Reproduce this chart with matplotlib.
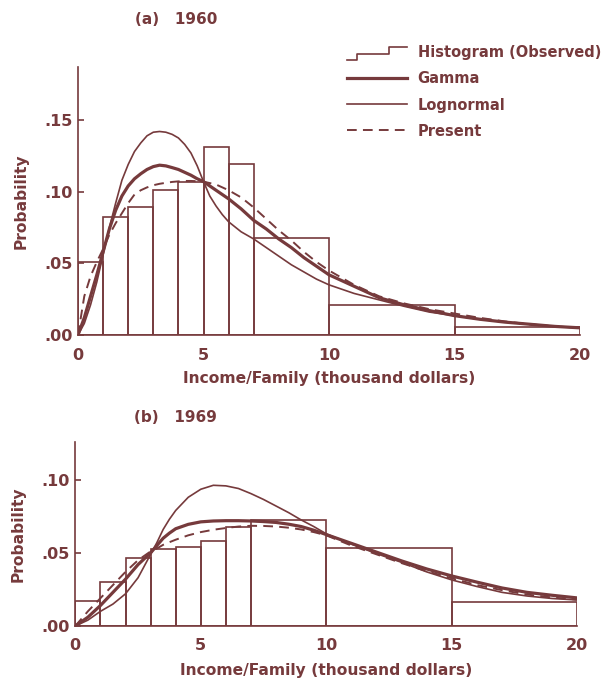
import matplotlib
matplotlib.use("Agg")
import matplotlib.pyplot as plt
from matplotlib.lines import Line2D
from matplotlib.legend_handler import HandlerBase

# cor da tinta do original
COR = "#763a3c"

# histogramas (limites das classes em mil dolares)
bordas = [0, 1, 2, 3, 4, 5, 6, 7, 10, 15, 20]
hist_1960 = [0.051, 0.082, 0.089, 0.101, 0.1065, 0.131, 0.119, 0.0676, 0.0207, 0.0058]
hist_1969 = [0.0171, 0.0304, 0.0466, 0.0525, 0.0541, 0.0578, 0.0674, 0.0722, 0.0532, 0.0162]

# curvas ajustadas 1960
x_a = [0, 0.25, 0.5, 0.75, 1.0, 1.25, 1.5, 1.75, 2.0, 2.25, 2.5, 2.75, 3.0, 3.25,
       3.5, 3.75, 4.0, 4.25, 4.5, 4.75, 5.0, 5.25, 5.5, 5.75, 6.0, 6.5, 7.0, 7.5,
       8.0, 8.5, 9.0, 9.5, 10, 11, 12, 13, 14, 15, 16, 17, 18, 19, 20]
gama_a = [0, 0.012, 0.027, 0.042, 0.058, 0.074, 0.087, 0.097, 0.104, 0.109, 0.1125,
          0.1155, 0.1175, 0.1185, 0.118, 0.1168, 0.1155, 0.1135, 0.1115, 0.109,
          0.107, 0.104, 0.101, 0.098, 0.095, 0.088, 0.080, 0.074, 0.067, 0.061,
          0.054, 0.048, 0.042, 0.034, 0.026, 0.021, 0.017, 0.0135, 0.011, 0.009,
          0.0075, 0.006, 0.005]
lognormal_a = [0, 0.008, 0.021, 0.037, 0.056, 0.075, 0.092, 0.108, 0.119, 0.128,
               0.134, 0.139, 0.1415, 0.142, 0.1415, 0.140, 0.1375, 0.133, 0.127,
               0.118, 0.107, 0.097, 0.090, 0.084, 0.079, 0.072, 0.067, 0.061,
               0.055, 0.049, 0.044, 0.039, 0.035, 0.029, 0.0245, 0.020, 0.016,
               0.0135, 0.011, 0.009, 0.0075, 0.006, 0.005]
presente_a = [0, 0.027, 0.041, 0.051, 0.060, 0.070, 0.078, 0.085, 0.092, 0.098,
              0.101, 0.103, 0.1045, 0.1055, 0.1062, 0.1068, 0.1072, 0.1075, 0.1075,
              0.1073, 0.107, 0.106, 0.105, 0.103, 0.101, 0.096, 0.089, 0.081,
              0.073, 0.066, 0.058, 0.051, 0.045, 0.035, 0.027, 0.022, 0.018,
              0.015, 0.012, 0.0095, 0.0075, 0.006, 0.005]

# curvas ajustadas 1969
x_b = [0, 0.5, 1.0, 1.5, 2.0, 2.5, 3.0, 3.25, 3.5, 3.75, 4.0, 4.5, 5.0, 5.5, 6.0,
       6.5, 7.0, 7.5, 8.0, 8.5, 9.0, 9.5, 10, 11, 12, 13, 14, 15, 16, 17, 18, 19, 20]
gama_b = [0, 0.006, 0.014, 0.023, 0.032, 0.042, 0.050, 0.055, 0.060, 0.0635, 0.0665,
          0.0695, 0.0712, 0.0718, 0.072, 0.072, 0.0718, 0.0714, 0.0708, 0.0696,
          0.068, 0.0655, 0.0625, 0.0565, 0.0505, 0.0445, 0.039, 0.0342, 0.030,
          0.026, 0.023, 0.021, 0.0192]
lognormal_b = [0, 0.004, 0.010, 0.015, 0.022, 0.033, 0.049, 0.057, 0.066, 0.073,
               0.079, 0.088, 0.0935, 0.0962, 0.0958, 0.094, 0.0905, 0.0865, 0.082,
               0.0775, 0.0725, 0.068, 0.063, 0.056, 0.0495, 0.0435, 0.037, 0.0315,
               0.027, 0.023, 0.0205, 0.0188, 0.0178]
presente_b = [0, 0.010, 0.019, 0.028, 0.037, 0.045, 0.051, 0.053, 0.0555, 0.0573,
              0.059, 0.062, 0.0642, 0.0658, 0.067, 0.068, 0.0685, 0.0684, 0.068,
              0.0672, 0.066, 0.0642, 0.062, 0.055, 0.049, 0.043, 0.0375, 0.0326,
              0.028, 0.0245, 0.0215, 0.0195, 0.018]

x_ticks = [0, 5, 10, 15, 20]
y_ticks_a = [0.00, 0.05, 0.10, 0.15]
y_ticks_b = [0.00, 0.05, 0.10]
y_rotulos_a = [".00", ".05", ".10", ".15"]
y_rotulos_b = [".00", ".05", ".10"]

plt.rcParams["font.family"] = ["DejaVu Sans"]
plt.rcParams["font.weight"] = "bold"
plt.rcParams["font.size"] = 10.5
plt.rcParams["text.color"] = COR
plt.rcParams["axes.labelcolor"] = COR
plt.rcParams["axes.labelweight"] = "bold"


class HandlerDegrau(HandlerBase):
    # simbolo de degrau para o histograma na legenda
    def create_artists(self, legend, orig_handle, xdescent, ydescent,
                       width, height, fontsize, trans):
        fx = [0, 0.17, 0.17, 0.7, 0.7, 1.0]
        fy = [0.0, 0.0, 0.45, 0.45, 0.95, 0.95]
        xs = [f * width - xdescent for f in fx]
        ys = [f * height - ydescent - 0.1 * height for f in fy]
        linha = Line2D(xs, ys, color=COR, lw=1.2)
        linha.set_transform(trans)
        return [linha]


def painel(ax, hist, x, gama, logn, pres, ytop, yticks, ylabels):
    larguras = [bordas[i + 1] - bordas[i] for i in range(len(hist))]
    ax.bar(bordas[:-1], hist, width=larguras, align="edge", fill=False,
           edgecolor=COR, linewidth=1.2)
    ax.plot(x, gama, color=COR, lw=2.3)
    ax.plot(x, logn, color=COR, lw=1.2)
    ax.plot(x, pres, color=COR, lw=1.4, ls=(0, (5, 3.2)))
    ax.set_xlim(0, 20)
    ax.set_ylim(0, ytop)
    for s in ["top", "right"]:
        ax.spines[s].set_visible(False)
    for s in ["left", "bottom"]:
        ax.spines[s].set_color(COR)
        ax.spines[s].set_linewidth(1.2)
    ax.set_xticks(x_ticks)
    ax.set_xticklabels([str(t) for t in x_ticks])
    ax.set_yticks(yticks)
    ax.set_yticklabels(ylabels)
    ax.tick_params(axis="x", length=0, pad=9, colors=COR, labelsize=11.5)
    ax.tick_params(axis="y", direction="in", length=4.5, width=1.2, pad=4,
                   colors=COR, labelsize=11.5)
    ax.set_xlabel("Income/Family (thousand dollars)", fontsize=11.2)
    ax.set_ylabel("Probability", fontsize=11.2)
    ax.xaxis.label.set_va("center")
    ax.yaxis.label.set_va("center")


fig = plt.figure(figsize=(6.06, 6.81), dpi=100)
ax_a = fig.add_axes([78 / 606, 1 - 335 / 681, 502 / 606, 268 / 681])
ax_b = fig.add_axes([75.3 / 606, 1 - 626 / 681, 502 / 606, 184.3 / 681])

painel(ax_a, hist_1960, x_a, gama_a, lognormal_a, presente_a, 0.187,
       y_ticks_a, y_rotulos_a)
painel(ax_b, hist_1969, x_b, gama_b, lognormal_b, presente_b, 0.126,
       y_ticks_b, y_rotulos_b)

ax_a.xaxis.set_label_coords(0.5, -(378 - 335) / 268)
ax_a.yaxis.set_label_coords(-(78 - 21) / 502, 0.5)
ax_b.xaxis.set_label_coords(0.5, -(670 - 626) / 184.3)
ax_b.yaxis.set_label_coords(-(75.3 - 18) / 502, 0.5)

fig.text(176 / 606, 1 - 20 / 681, "(a)   1960", ha="center", va="center",
         fontsize=11)
fig.text(175 / 606, 1 - 417 / 681, "(b)   1969", ha="center", va="center",
         fontsize=11)

# legenda
alca_hist = object()
alcas = [alca_hist,
         Line2D([], [], color=COR, lw=2.3),
         Line2D([], [], color=COR, lw=1.2),
         Line2D([], [], color=COR, lw=1.4, ls=(0, (5, 3.2)))]
nomes = ["Histogram (Observed)", "Gamma", "Lognormal", "Present"]
fig.legend(alcas, nomes, loc="upper left",
           bbox_to_anchor=(347 / 606, 1 - 45 / 681),
           frameon=False, borderpad=0, borderaxespad=0,
           handlelength=4.1, handleheight=1.0, handletextpad=0.75,
           labelspacing=0.78, fontsize=10.5,
           handler_map={alca_hist: HandlerDegrau()})

fig.savefig("out.png", dpi=100)
